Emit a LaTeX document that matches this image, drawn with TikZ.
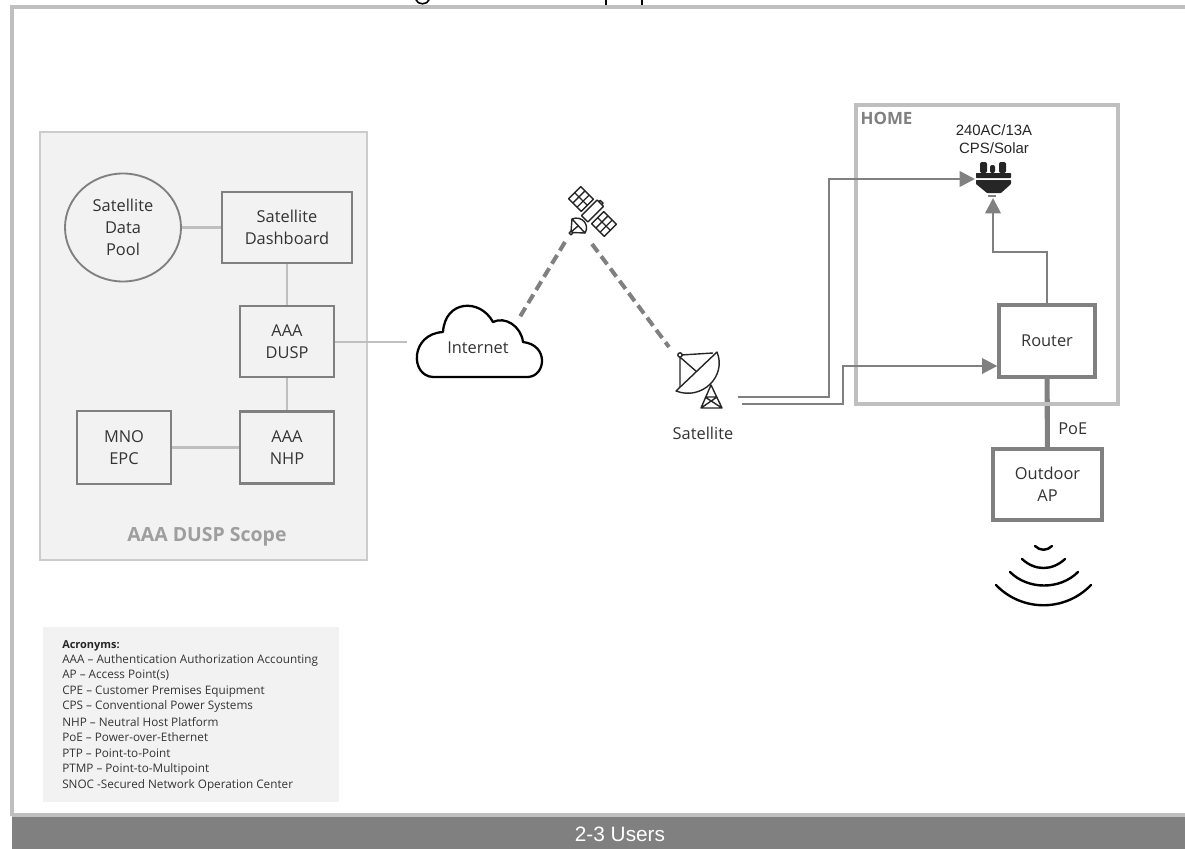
\documentclass[tikz,border=0pt]{standalone}
\usepackage{fontspec}
\usetikzlibrary{arrows.meta,shapes.geometric}
\setmainfont{Open Sans}
\newfontfamily\arialf{Liberation Sans}
\definecolor{framegray}{HTML}{BFBFBF}
\definecolor{midgray}{HTML}{808080}
\definecolor{panelgray}{HTML}{F2F2F2}
\definecolor{txtgray}{HTML}{333333}
\newcommand{\fs}[1]{\fontsize{#1}{#1}\selectfont}
\tikzset{
  x=0.75pt,y=-0.75pt,
  box/.style={draw=midgray,line width=2pt,fill=#1,inner sep=0pt,align=center,text=txtgray,font=\fs{12.3}\linespread{1.34}\selectfont},
  box/.default=white,
  glink/.style={draw=framegray,line width=1.6pt},
  conn/.style={draw=midgray,line width=1.9pt,line join=miter},
  arrowed/.style={conn,-{Triangle[length=11.5pt,width=11.5pt]}},
  sat/.style={draw=midgray,line width=3pt,dash pattern=on 7.5pt off 4pt},
  icon/.style={draw=black!85,line width=1.05pt,line join=round},
  wave/.style={draw=black,line width=1.8pt,line cap=round},
  label/.style={inner sep=0pt,align=center,text=txtgray,font=\fs{12.3}},
}
\begin{document}
\begin{tikzpicture}
\useasboundingbox (0,0) rectangle (1185,849);
% title remnants
\draw[black,line width=1.2pt] (416,0) .. controls (418,5) and (427,5) .. (429,0);
\draw[black,line width=1pt] (606,0) -- (606,5) (642,0) -- (642,5);
% frame
\draw[framegray,line width=3pt] (12,816) -- (12,7) -- (1185,7);
\fill[framegray] (12,813) rectangle (1185,817);
\fill[midgray] (12,817) rectangle (1185,849);
\node[inner sep=0pt,text=white,font=\arialf\fs{15.6}] (users) at (620,834) {2-3 Users};
% DUSP panel
\node[draw=framegray!80,line width=1pt,fill=panelgray,minimum width=327*0.75pt,minimum height=428*0.75pt,inner sep=0pt] (scope) at (203.5,346) {};
\node[inner sep=0pt,text=black!38,font=\bfseries\fs{14.6}] (scopelbl) at (207,537) {AAA DUSP Scope};
\node[draw=midgray,line width=1.4pt,fill=panelgray,ellipse,minimum width=116*0.75pt,minimum height=108*0.75pt,inner sep=0pt,align=center,text=txtgray,font=\fs{12.3}\linespread{1.34}\selectfont] (pool) at (123,227.5) {Satellite\\Data\\Pool};
\node[box=panelgray,minimum width=130*0.75pt,minimum height=71*0.75pt] (dash) at (287,227.5) {Satellite\\Dashboard};
\node[box=panelgray,minimum width=94*0.75pt,minimum height=71*0.75pt] (dusp) at (287,341.5) {AAA\\DUSP};
\node[box=panelgray,minimum width=94*0.75pt,minimum height=72*0.75pt] (nhp) at (287,447.5) {AAA\\NHP};
\node[box=panelgray,minimum width=94*0.75pt,minimum height=73*0.75pt] (mno) at (124,447.5) {MNO\\EPC};
\draw[glink] (pool) -- (dash);
\draw[glink] (dash) -- (dusp);
\draw[glink] (dusp) -- (nhp);
\draw[glink] (mno) -- (nhp);
% cloud
\draw[black,line width=1.7pt,fill=white,line join=round]
  (433,377) -- (528,377) .. controls (546,376) and (549,345) .. (523,342)
  .. controls (521,326) and (505,316) .. (493,322)
  .. controls (480,298) and (445,300) .. (443,332)
  .. controls (410,334) and (410,376) .. (433,377) -- cycle;
\node[label] (net) at (478,348) {Internet};
\coordinate (netW) at (407,342);
\coordinate (netNE) at (518,320);
\draw[glink] (dusp.east |- netW) -- (netW);
% satellite
\coordinate (satL) at (565,242);
\coordinate (satR) at (592,244);
\coordinate (dishT) at (669,347);
\draw[sat] (satL) -- (netNE);
\draw[sat] (satR) -- (dishT);
\begin{scope}[shift={(581,199)},rotate=-45]
  \draw[icon] (-9,-8.5) rectangle (9,8.5) (-3,-8.5) -- (-3,8.5) (3,-8.5) -- (3,8.5) (-9,0) -- (9,0);
\end{scope}
\begin{scope}[shift={(604,224)},rotate=-45]
  \draw[icon] (-9,-8.5) rectangle (9,8.5) (-3,-8.5) -- (-3,8.5) (3,-8.5) -- (3,8.5) (-9,0) -- (9,0);
\end{scope}
\begin{scope}[shift={(592.5,211)},rotate=-45]
  \draw[icon,fill=white] (-4.5,-11) rectangle (4.5,11);
  \draw[icon] (-2,-11) -- (-2,-13) -- (2,-13) -- (2,-11);
\end{scope}
\draw[icon] (572,219) .. controls (582,215) and (590,225) .. (585,233) -- cycle;
\draw[icon] (572,219) -- (571,232) (572,232.5) -- (585,233) (578,226) -- (571,232);
\draw[icon,fill=white] (571,233) circle[radius=1.8];
% dish
\draw[icon] (680,356) -- (680,389) (681,355) -- (713,353) (681,358) -- (697,372);
\draw[icon,fill=white] (680,355) circle[radius=2.2];
\draw[icon] (711,385) -- (701,408) -- (722,408) -- cycle (705,397) -- (722,408) (717,397) -- (701,408) (705,397) -- (717,397);
\draw[icon,fill=white] (676,391) -- (717,352) .. controls (727,376) and (702,401) .. (676,391) -- cycle;
\node[label] (satlbl) at (703,433) {Satellite};
\coordinate (s1) at (738,397);
\coordinate (s2) at (742,404);
% home side
\node[box,minimum width=96*0.75pt,minimum height=72*0.75pt,line width=2.5pt] (router) at (1047,341) {Router};
\node[box,minimum width=109*0.75pt,minimum height=71*0.75pt,line width=2.5pt] (ap) at (1047.5,484.5) {Outdoor\\AP};
\draw[midgray,line width=3.8pt] (router) -- (ap);
\draw[framegray,line width=2.5pt] (856,105) rectangle (1118,404);
\node[label,anchor=west] (poe) at (1058,429) {PoE};
\node[inner sep=0pt,text=midgray,font=\bfseries\fs{12.7}] (home) at (886.5,118) {HOME};
\node[inner sep=0pt,align=center,text=black!85,font=\arialf\fs{11.2}\linespread{1.25}\selectfont] (plab) at (994,139) {240AC/13A\\CPS/Solar};
% plug
\coordinate (plugL) at (975,179);
\coordinate (plugB) at (993,198);
\coordinate (rin) at (843,366);
\fill[black!85,rounded corners=1.5pt]
  (980,162) rectangle (987,173) (990,165) rectangle (995,173) (999,162) rectangle (1006,173);
\fill[black!85,rounded corners=0.5pt]
  (976,173) rectangle (1011,178)
  (976,180) -- (1011,180) -- (1011,184) -- (1001,193) -- (987,193) -- (976,184) -- cycle;
\fill[midgray] (988,195) rectangle (996,197);
\draw[arrowed] (s1) -- (829,397) -- (829,179) -- (plugL);
\draw[arrowed] (s2) -- (843,404) -- (rin) -- (router.west |- rin);
\draw[arrowed] (router.north) -- (1047,252) -- (993,252) -- (plugB);
% wifi
\draw[wave] (1035,546) .. controls (1040,551) and (1047,551) .. (1052,546);
\draw[wave] (1022,559) .. controls (1035,571) and (1052,571) .. (1065,559);
\draw[wave] (1010,572) .. controls (1028,590) and (1060,590) .. (1078,572);
\draw[wave] (996,585) .. controls (1022,612) and (1065,612) .. (1091,585);
% acronyms
\fill[panelgray] (43,627) rectangle (339,802);
\node[inner sep=0pt,anchor=north west,align=left,text=txtgray,font=\fs{8.8}] (acr) at (62,640) {%
{\bfseries\fs{8.2}\color{black!85}Acronyms:}\\[2.75pt]
AAA – Authentication Authorization Accounting\\[2.75pt]
AP – Access Point(s)\\[2.75pt]
CPE – Customer Premises Equipment\\[2.75pt]
CPS – Conventional Power Systems\\[2.75pt]
NHP – Neutral Host Platform\\[2.75pt]
PoE – Power-over-Ethernet\\[2.75pt]
PTP – Point-to-Point\\[2.75pt]
PTMP – Point-to-Multipoint\\[2.75pt]
SNOC -Secured Network Operation Center};
\end{tikzpicture}
\end{document}
